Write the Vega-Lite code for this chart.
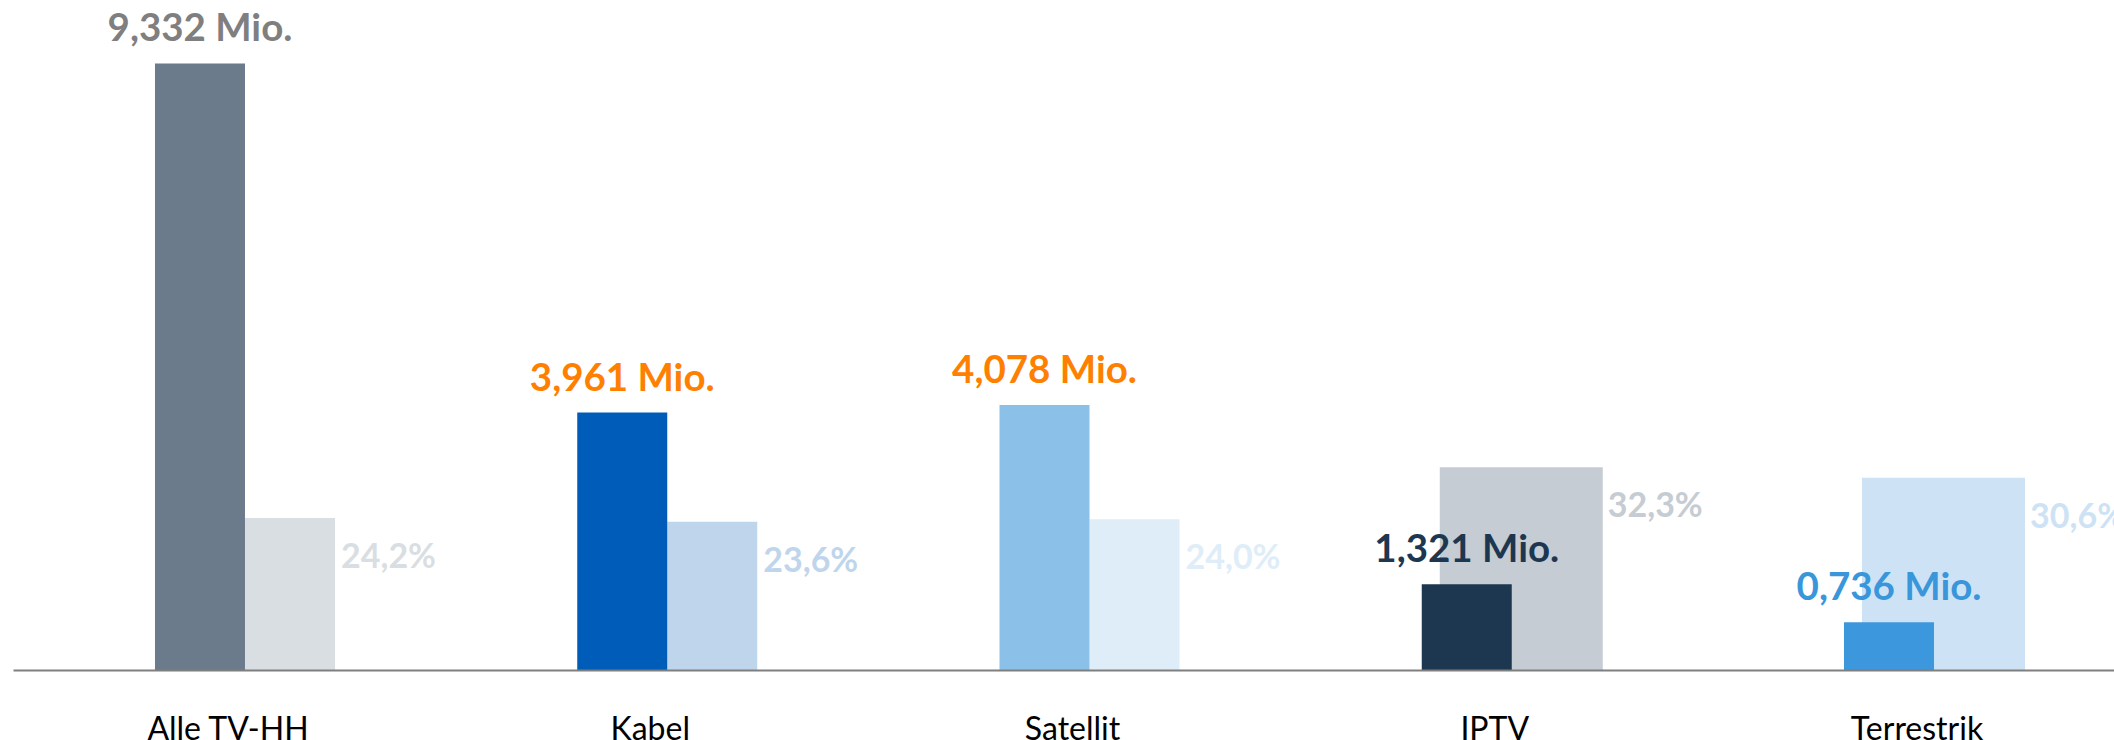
{
  "$schema": "https://vega.github.io/schema/vega-lite/v6.json",
  "width": 2101,
  "height": 650,
  "autosize": {"type": "none"},
  "padding": {"left": 13, "top": 20, "right": 0, "bottom": 70},
  "background": "white",
  "config": {"view": {"stroke": null}, "font": "Lato"},
  "data": {
    "values": [
      {"cat": "Alle TV-HH", "mio": 9.332, "mioLabel": "9,332 Mio.", "pct": 24.2, "pctLabel": "24,2%"},
      {"cat": "Kabel", "mio": 3.961, "mioLabel": "3,961 Mio.", "pct": 23.6, "pctLabel": "23,6%"},
      {"cat": "Satellit", "mio": 4.078, "mioLabel": "4,078 Mio.", "pct": 24.0, "pctLabel": "24,0%"},
      {"cat": "IPTV", "mio": 1.321, "mioLabel": "1,321 Mio.", "pct": 32.3, "pctLabel": "32,3%"},
      {"cat": "Terrestrik", "mio": 0.736, "mioLabel": "0,736 Mio.", "pct": 30.6, "pctLabel": "30,6%"}
    ]
  },
  "encoding": {
    "x": {
      "field": "cat",
      "type": "nominal",
      "sort": null,
      "scale": {"range": [0, 2153], "paddingInner": 0, "paddingOuter": 0.0494},
      "axis": {
        "title": null,
        "labelAngle": 0,
        "ticks": false,
        "tickSize": 0,
        "labelPadding": 69,
        "labelOffset": -17,
        "labelBaseline": "alphabetic",
        "labelFontSize": 32,
        "labelFont": "Lato",
        "labelColor": "#000000",
        "labelLimit": 0,
        "labelOverlap": false,
        "domainColor": "#7F7F7F",
        "domainWidth": 2,
        "zindex": 1
      }
    }
  },
  "layer": [
    {
      "transform": [{"filter": "datum.cat != 'IPTV' && datum.cat != 'Terrestrik'"}],
      "mark": {"type": "bar", "width": 90, "xOffset": 45},
      "encoding": {
        "y": {"field": "pct", "type": "quantitative", "scale": {"domain": [0, 103.5], "nice": false}, "axis": null},
        "color": {"field": "cat", "type": "nominal", "legend": null,
          "scale": {"domain": ["Alle TV-HH", "Kabel", "Satellit"], "range": ["#D9DEE2", "#BFD5EC", "#DEEDF8"]}}
      }
    },
    {
      "transform": [{"filter": "datum.cat == 'IPTV' || datum.cat == 'Terrestrik'"}],
      "mark": {"type": "bar", "width": 163, "xOffset": 9.5},
      "encoding": {
        "y": {"field": "pct", "type": "quantitative", "scale": {"domain": [0, 103.5], "nice": false}, "axis": null},
        "color": {"field": "cat", "type": "nominal", "legend": null,
          "scale": {"domain": ["IPTV", "Terrestrik"], "range": ["#C5CCD3", "#CDE3F5"]}}
      }
    },
    {
      "mark": {"type": "bar", "width": 90, "xOffset": -45},
      "encoding": {
        "y": {"field": "mio", "type": "quantitative", "scale": {"domain": [0, 10], "nice": false}, "axis": null},
        "color": {"field": "cat", "type": "nominal", "legend": null,
          "scale": {"domain": ["Alle TV-HH", "Kabel", "Satellit", "IPTV", "Terrestrik"], "range": ["#6B7B8C", "#005CB9", "#8BC0E8", "#1D3751", "#3C97DC"]}}
      }
    },
    {
      "mark": {"type": "text", "xOffset": -45, "dy": -22, "align": "center", "baseline": "alphabetic", "font": "Lato", "fontWeight": "bold", "fontSize": 38.5},
      "encoding": {
        "y": {"field": "mio", "type": "quantitative", "scale": {"domain": [0, 10], "nice": false}, "axis": null},
        "text": {"field": "mioLabel"},
        "color": {"field": "cat", "type": "nominal", "legend": null,
          "scale": {"domain": ["Alle TV-HH", "Kabel", "Satellit", "IPTV", "Terrestrik"], "range": ["#7F7F7F", "#FF7F00", "#FF7F00", "#1D3751", "#3A96DB"]}}
      }
    },
    {
      "mark": {"type": "text", "xOffset": 96, "dy": 50, "align": "left", "baseline": "alphabetic", "font": "Lato", "fontWeight": "bold", "fontSize": 34},
      "encoding": {
        "y": {"field": "pct", "type": "quantitative", "scale": {"domain": [0, 103.5], "nice": false}, "axis": null},
        "text": {"field": "pctLabel"},
        "color": {"field": "cat", "type": "nominal", "legend": null,
          "scale": {"domain": ["Alle TV-HH", "Kabel", "Satellit", "IPTV", "Terrestrik"], "range": ["#D9DEE2", "#BFD5EC", "#DEEDF8", "#C5CCD3", "#CDE3F5"]}}
      }
    }
  ],
  "resolve": {"scale": {"y": "independent", "color": "independent"}}
}
